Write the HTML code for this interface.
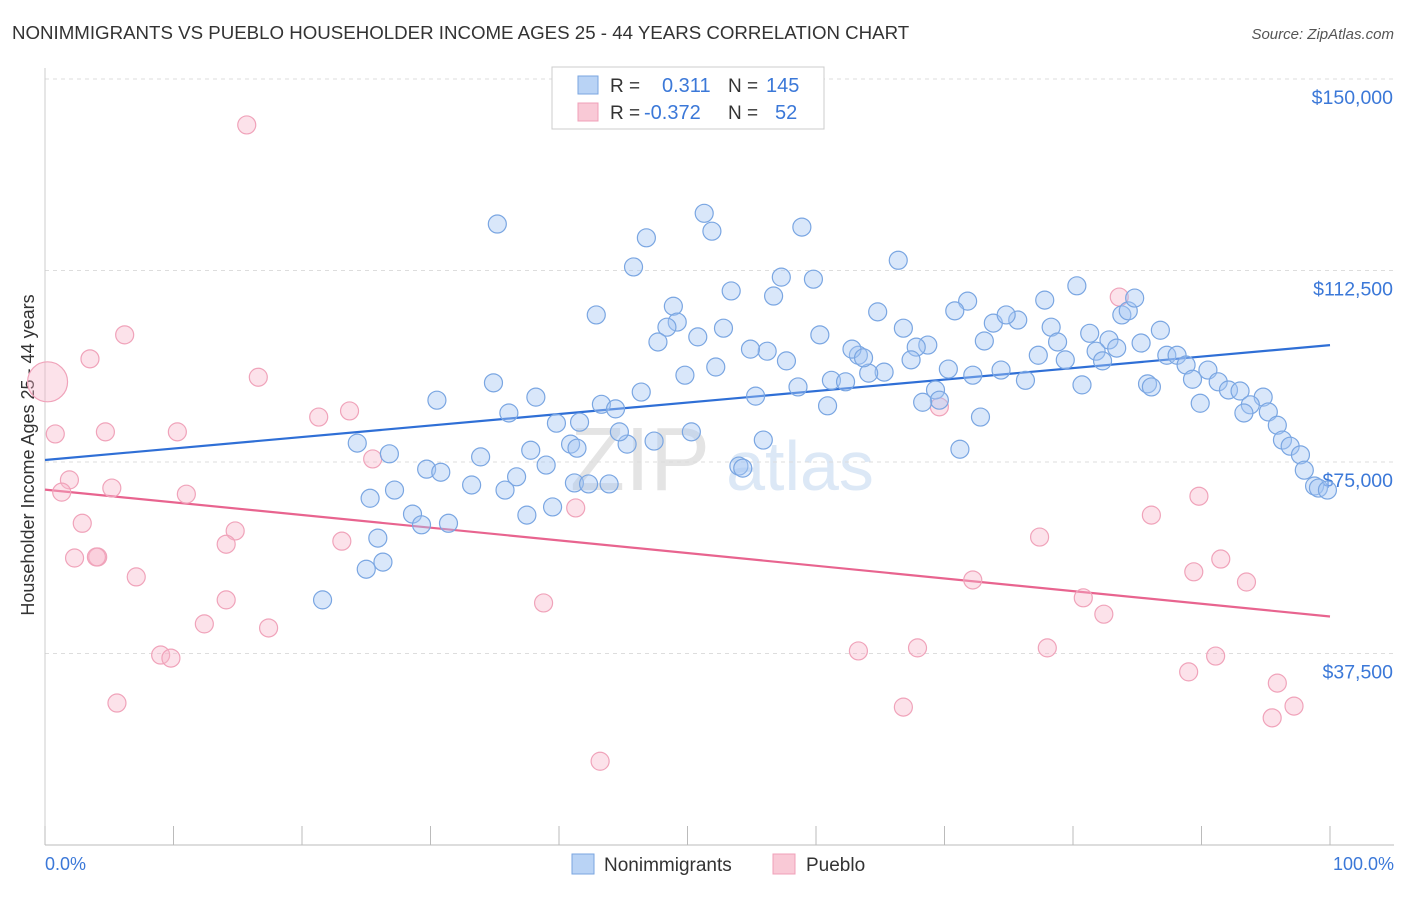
<!DOCTYPE html>
<html><head><meta charset="utf-8"><style>
body{margin:0;background:#fff;font-family:"Liberation Sans",sans-serif;}
svg text{font-family:"Liberation Sans",sans-serif;}
</style></head><body>
<svg id="chart" width="1406" height="892">
<text x="12" y="39" font-size="18.7" fill="#333">NONIMMIGRANTS VS PUEBLO HOUSEHOLDER INCOME AGES 25 - 44 YEARS CORRELATION CHART</text>
<text x="1394" y="39" font-size="15" fill="#555" text-anchor="end" font-style="italic">Source: ZipAtlas.com</text>
<text x="34" y="455" font-size="18" fill="#333" text-anchor="middle" transform="rotate(-90 34 455)">Householder Income Ages 25 - 44 years</text>
<g><text x="640" y="490" font-size="90" fill="#e4e4e4" text-anchor="middle" font-family="Liberation Serif">ZIP</text><text x="800" y="490" font-size="70" fill="#dce8f6" text-anchor="middle">atlas</text></g>
<g id="grid"></g><g id="axes"></g><g id="lines"></g><g id="pts"></g>
<g>
<rect x="552" y="67" width="272" height="62" fill="#fff" stroke="#ccc"/>
<rect x="578" y="76" width="20" height="18" fill="#b9d3f5" stroke="#7aa6e0"/>
<text x="610" y="92" font-size="19" fill="#333">R =</text><text x="662" y="92" font-size="20" fill="#3b78d8">0.311</text>
<text x="728" y="92" font-size="19" fill="#333">N =</text><text x="766" y="92" font-size="20" fill="#3b78d8">145</text>
<rect x="578" y="103" width="20" height="18" fill="#f9c9d6" stroke="#f0a0b8"/>
<text x="610" y="119" font-size="19" fill="#333">R =</text><text x="644" y="119" font-size="20" fill="#3b78d8">-0.372</text>
<text x="728" y="119" font-size="19" fill="#333">N =</text><text x="775" y="119" font-size="20" fill="#3b78d8">52</text>
</g>
<g>
<rect x="572" y="854" width="22" height="20" fill="#b9d3f5" stroke="#7aa6e0"/><text x="604" y="871" font-size="19" fill="#333">Nonimmigrants</text>
<rect x="773" y="854" width="22" height="20" fill="#f9c9d6" stroke="#f0a0b8"/><text x="806" y="871" font-size="19" fill="#333">Pueblo</text>
</g>
</svg>
<script>
const blueX=[35.2,51.3,51.9,46.8,58.9,45.8,66.4,57.3,59.8,53.4,56.7,42.9,48.9,49.2,48.4,47.7,50.8,52.8,80.3,77.8,71.8,70.8,64.8,66.8,73.8,75.7,74.8,78.3,81.3,82.8,83.8,84.3,84.8,86.8,85.3,81.8,83.4,78.8,77.3,79.4,82.3,87.3,88.1,88.8,89.3,90.5,91.3,92.1,93.0,94.8,93.8,93.3,95.2,95.9,96.3,96.9,97.7,98.0,98.8,99.1,99.8,89.9,85.8,86.1,80.7,76.3,74.4,72.2,70.3,73.1,68.7,67.8,67.4,65.3,64.1,63.3,62.8,63.7,60.3,57.7,56.2,54.9,52.2,49.8,46.4,43.3,44.4,55.3,58.6,60.9,61.2,62.3,69.3,69.6,68.3,72.8,71.2,34.9,30.5,38.2,36.1,41.6,39.8,40.9,41.4,37.8,45.3,47.4,44.7,50.3,55.9,39.0,41.2,36.7,33.9,29.7,30.8,33.2,35.8,27.2,25.3,24.3,26.8,28.6,29.3,31.4,37.5,39.5,42.3,43.9,25.9,25.0,26.3,21.6,54.0,54.3];
const blueY=[121.6,123.7,120.2,118.9,121.0,113.2,114.5,111.2,110.8,108.5,107.5,103.8,105.5,102.4,101.4,98.5,99.5,101.2,109.5,106.7,106.5,104.6,104.4,101.2,102.2,102.8,103.8,101.4,100.2,98.9,103.8,104.6,107.1,100.8,98.3,96.7,97.3,98.5,95.9,95.0,94.8,95.9,95.9,94.0,91.2,93.0,90.7,89.1,88.9,87.7,86.2,84.6,84.8,82.2,79.3,78.1,76.4,73.4,70.3,69.9,69.5,86.5,90.3,89.7,90.1,91.0,93.0,92.0,93.2,98.7,97.9,97.5,95.0,92.6,92.4,95.9,97.1,95.4,99.9,94.8,96.7,97.1,93.6,92.0,88.7,86.3,85.4,87.9,89.7,86.0,91.0,90.7,89.1,87.1,86.7,83.8,77.5,90.5,87.1,87.7,84.6,82.8,82.6,78.5,77.7,77.3,78.5,79.1,80.9,80.9,79.3,74.4,70.9,72.1,76.0,73.6,73.0,70.5,69.5,69.5,67.9,78.7,76.6,64.8,62.7,63.0,64.6,66.2,70.7,70.7,60.1,54.0,55.4,48.0,74.2,73.8];
const pinkX=[0.2,0.8,3.5,6.2,15.7,16.6,21.3,23.7,25.5,10.3,4.7,1.9,1.3,5.2,11.0,2.9,14.8,14.1,23.1,2.3,4.1,7.1,14.1,12.4,17.4,9.0,9.8,5.6,38.8,41.3,43.2,69.6,83.6,86.1,89.8,77.4,91.5,89.4,93.5,72.2,80.8,82.4,63.3,67.9,78.0,91.1,89.0,95.9,97.2,95.5,66.8,4.0];
const pinkY=[90.7,80.5,95.2,99.9,141.0,91.6,83.8,85.0,75.6,80.9,80.9,71.5,69.1,69.9,68.7,63.0,61.5,58.9,59.5,56.2,56.4,52.5,48.0,43.3,42.5,37.2,36.6,27.8,47.4,66.0,16.4,85.8,107.3,64.6,68.3,60.3,56.0,53.5,51.5,51.9,48.4,45.2,38.0,38.6,38.6,37.0,33.9,31.7,27.2,24.9,27.0,56.4];
const yTicks=[37.5,75,112.5,150];
const yTickLabels=["$37,500","$75,000","$112,500","$150,000"];
const xTicks=[0,10,20,30,40,50,60,70,80,90,100];
const NS="http://www.w3.org/2000/svg";
const sx=v=>45+v*12.85, sy=v=>845-v*191.5/37.5;
function mk(t,a,p){const e=document.createElementNS(NS,t);for(const k in a)e.setAttribute(k,a[k]);p.appendChild(e);return e;}
const grid=document.getElementById('grid'),axes=document.getElementById('axes');
yTicks.forEach((v,i)=>{
 const l=mk('line',{x1:45,x2:1394,y1:sy(v),y2:sy(v),stroke:'#ddd','stroke-dasharray':'4,4'},grid);
 
 
 const t=mk('text',{x:1393,y:sy(v)+25,'font-size':19.5,fill:'#3b78d8','text-anchor':'end'},axes);
 t.textContent=yTickLabels[i];
 
 
});
const ax=mk('line',{x1:45,x2:1394,y1:845,y2:845,stroke:'#bbb'},axes);


const ay=mk('line',{x1:45,x2:45,y1:68,y2:845,stroke:'#ccc'},axes);


xTicks.forEach(v=>{const l=mk('line',{x1:sx(v),x2:sx(v),y1:826,y2:845,stroke:'#bbb'},axes);
 
 });
let t=mk('text',{x:45,y:870,'font-size':18,fill:'#3b78d8'},axes);t.textContent='0.0%';


t=mk('text',{x:1394,y:870,'font-size':18,fill:'#3b78d8','text-anchor':'end'},axes);t.textContent='100.0%';


function reg(X,Y){const n=X.length;let mx=0,my=0;X.forEach((x,i)=>{mx+=x;my+=Y[i]});mx/=n;my/=n;let sxy=0,sxx=0;X.forEach((x,i)=>{sxy+=(x-mx)*(Y[i]-my);sxx+=(x-mx)**2});const b=sxy/sxx;return [my-b*mx,b];}
const pts=document.getElementById('pts'),lines=document.getElementById('lines');
pinkX.forEach((x,i)=>{const c=mk('circle',{cx:sx(x),cy:sy(pinkY[i]),r:i===0?20:9,fill:'rgba(248,182,202,0.4)',stroke:'#f0a3ba','stroke-width':1.2},pts);
 
 });
blueX.forEach((x,i)=>{const c=mk('circle',{cx:sx(x),cy:sy(blueY[i]),r:9,fill:'rgba(165,198,242,0.42)',stroke:'#7aa6e2','stroke-width':1.2},pts);
 
 });
[[blueX,blueY,'#2f6fd6','nonimmigrants-trend-line'],[pinkX,pinkY,'#e8648f','pueblo-trend-line']].forEach(([X,Y,c,n])=>{
 const [a,b]=reg(X,Y);
 const l=mk('line',{x1:sx(0),y1:sy(a),x2:sx(100),y2:sy(a+b*100),stroke:c,'stroke-width':2.2},lines);
 
 
});
</script>
</body></html>
